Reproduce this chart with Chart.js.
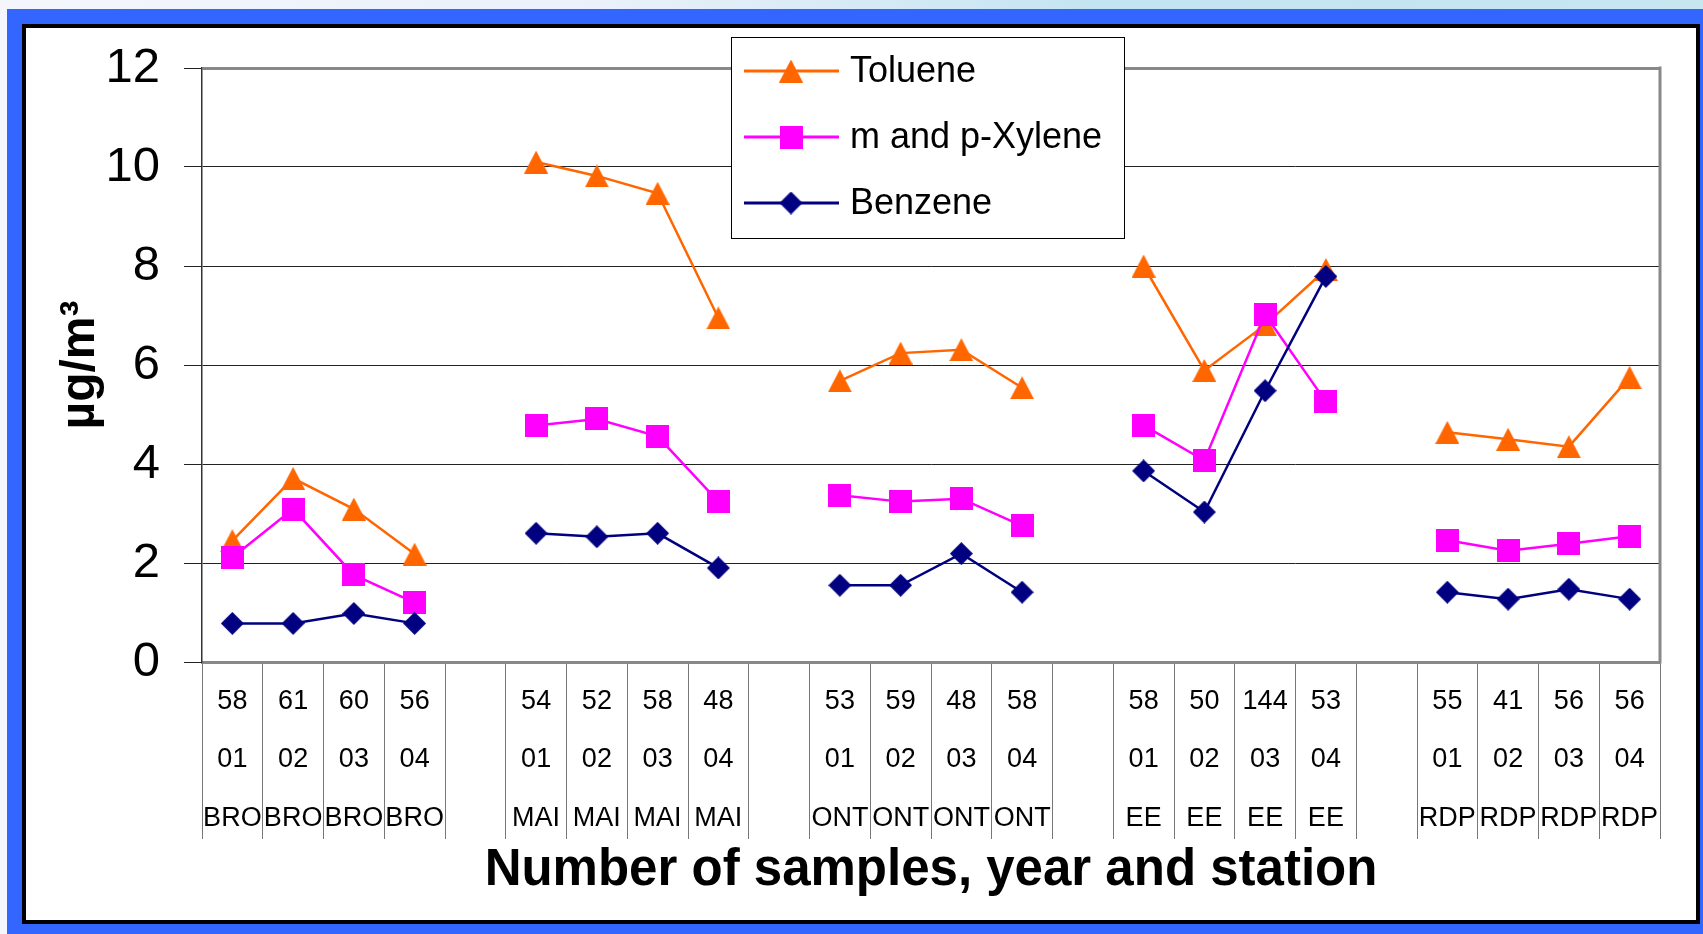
<!DOCTYPE html>
<html>
<head>
<meta charset="utf-8">
<script src="https://cdn.jsdelivr.net/npm/chart.js@4/dist/chart.umd.min.js"></script>
<style>
    html, body {
        margin: 0;
        padding: 0;
        width: 1703px;
        height: 934px;
        overflow: hidden;
        background: linear-gradient(to right, #f4f6fc 0%, #eaf1fa 35%, #c3e4f1 65%, #c6e6f0 100%);
    }
    #blue {
        position: absolute;
        left: 7px;
        top: 9px;
        width: 1696px;
        height: 925px;
        background: #3366ff;
    }
    #paper {
        position: absolute;
        left: 22px;
        top: 24px;
        width: 1670px;
        height: 892px;
        border: 4px solid #000;
        background: #fff;
    }
    #chart {
        position: absolute;
        left: 0;
        top: 0;
    }
</style>
</head>
<body>
<div id="blue"></div>
<div id="paper"></div>
<canvas id="chart" width="1703" height="934"></canvas>
<script>
/*
 * Data (empty strings / nulls are the gaps between stations)
 */

const sampleCounts = [
    "58", "61", "60", "56", "",
    "54", "52", "58", "48", "",
    "53", "59", "48", "58", "",
    "58", "50", "144", "53", "",
    "55", "41", "56", "56"
];

const sampleYears = [
    "01", "02", "03", "04", "",
    "01", "02", "03", "04", "",
    "01", "02", "03", "04", "",
    "01", "02", "03", "04", "",
    "01", "02", "03", "04"
];

const stations = [
    "BRO", "BRO", "BRO", "BRO", "",
    "MAI", "MAI", "MAI", "MAI", "",
    "ONT", "ONT", "ONT", "ONT", "",
    "EE", "EE", "EE", "EE", "",
    "RDP", "RDP", "RDP", "RDP"
];

const toluene = [
    2.45, 3.71, 3.09, 2.18, null,
    10.10, 9.82, 9.47, 6.95, null,
    5.68, 6.24, 6.31, 5.54, null,
    8.00, 5.89, 6.81, 7.93, null,
    4.64, 4.50, 4.35, 5.75
];

const xylene = [
    2.11, 3.09, 1.76, 1.20, null,
    4.78, 4.91, 4.56, 3.24, null,
    3.37, 3.24, 3.30, 2.75, null,
    4.78, 4.07, 7.02, 5.26, null,
    2.46, 2.25, 2.39, 2.54
];

const benzene = [
    0.78, 0.78, 0.98, 0.78, null,
    2.60, 2.53, 2.60, 1.90, null,
    1.55, 1.55, 2.19, 1.41, null,
    3.86, 3.03, 5.48, 7.79, null,
    1.41, 1.27, 1.47, 1.27
];

const seriesNames = [
    "Toluene",
    "m and p-Xylene",
    "Benzene"
];

const yTicks = [0, 2, 4, 6, 8, 10, 12];


document.addEventListener(

    "DOMContentLoaded",

    () => {

        const FONT = "'Liberation Sans', Arial, sans-serif";

        /*
         * Markers, drawn once on small canvases
         */

        function makeMarker(shape, color, w, h) {

            const c = document.createElement("canvas");
            c.width = w;
            c.height = h;
            const g = c.getContext("2d");
            g.fillStyle = color;
            g.beginPath();

            if (shape === "triangle") {
                g.moveTo(w / 2, 0);
                g.lineTo(w, h);
                g.lineTo(0, h);
            } else if (shape === "diamond") {
                g.moveTo(w / 2, 0);
                g.lineTo(w, h / 2);
                g.lineTo(w / 2, h);
                g.lineTo(0, h / 2);
            } else {
                g.rect(0, 0, w, h);
            }

            g.closePath();
            g.fill();
            return c;
        }

        const colors = ["#ff6600", "#ff00ff", "#000080"];

        const markers = [
            makeMarker("triangle", colors[0], 24, 23),
            makeMarker("square", colors[1], 23, 23),
            makeMarker("diamond", colors[2], 23, 23)
        ];

        const labels =
            sampleCounts.map(
                (c, i) => [c, sampleYears[i], stations[i]]
            );


        /*
         * Right border of the plot area
         */

        const plotFrame = {

            id: "plotFrame",

            beforeDatasetsDraw(chart) {

                const { ctx, chartArea } = chart;

                ctx.save();
                ctx.strokeStyle = "#888";
                ctx.lineWidth = 3;
                ctx.beginPath();
                ctx.moveTo(chartArea.right, chartArea.top - 1.5);
                ctx.lineTo(chartArea.right, chartArea.bottom + 1.5);
                ctx.stroke();
                ctx.restore();
            }
        };


        /*
         * Boxed legend inside the plot
         */

        const boxLegend = {

            id: "boxLegend",

            afterDraw(chart) {

                const ctx = chart.ctx;
                const box = { x: 731, y: 37, w: 393, h: 201 };

                ctx.save();
                ctx.fillStyle = "#fff";
                ctx.fillRect(box.x, box.y, box.w, box.h);
                ctx.strokeStyle = "#000";
                ctx.lineWidth = 1;
                ctx.strokeRect(box.x + 0.5, box.y + 0.5, box.w, box.h);

                chart.data.datasets.forEach(

                    (ds, i) => {

                        const y = 71 + i * 66;

                        ctx.strokeStyle = ds.borderColor;
                        ctx.lineWidth = 3;
                        ctx.beginPath();
                        ctx.moveTo(744, y);
                        ctx.lineTo(839, y);
                        ctx.stroke();

                        const m = ds.pointStyle;
                        ctx.drawImage(m, 791 - m.width / 2, y - m.height / 2);

                        ctx.fillStyle = "#000";
                        ctx.font = "36px " + FONT;
                        ctx.textBaseline = "alphabetic";
                        ctx.textAlign = "left";
                        ctx.fillText(ds.label, 850, y + 11);
                    }
                );

                ctx.restore();
            }
        };


        /*
         * Chart
         */

        const seriesData = [toluene, xylene, benzene];

        new Chart(

            document.getElementById("chart"),

            {

                type: "line",

                data: {

                    labels,

                    datasets: seriesNames.map(

                        (name, i) => ({

                            label: name,
                            data: seriesData[i],
                            borderColor: colors[i],
                            backgroundColor: colors[i],
                            borderWidth: 2.5,
                            pointStyle: markers[i],
                            pointRadius: 12,
                            tension: 0,
                            spanGaps: false,
                            order: 3 - i
                        })
                    )
                },

                options: {

                    responsive: false,
                    animation: false,
                    devicePixelRatio: 1,

                    layout: {
                        padding: { left: 26, top: 68, right: 43, bottom: 14 }
                    },

                    plugins: {
                        legend: { display: false },
                        tooltip: { enabled: false }
                    },

                    scales: {

                        x: {

                            offset: true,

                            grid: {
                                display: true,
                                drawOnChartArea: false,
                                offset: true,
                                drawTicks: true,
                                tickLength: 177,
                                color: "#777",
                                tickColor: "#777",
                                lineWidth: 1
                            },

                            border: { color: "#888", width: 3 },

                            ticks: {
                                autoSkip: false,
                                maxRotation: 0,
                                minRotation: 0,
                                padding: -167,
                                color: "#000",
                                font: { family: FONT, size: 27, lineHeight: 2.17 }
                            },

                            title: {
                                display: true,
                                text: "Number of samples, year and station",
                                color: "#000",
                                font: { family: FONT, size: 51, weight: "bold" },
                                padding: { top: 0, bottom: 18 }
                            },

                            afterFit: s => { s.height = 258; }
                        },

                        y: {

                            min: yTicks[0],
                            max: yTicks[yTicks.length - 1],

                            afterBuildTicks: s => {
                                s.ticks = yTicks.map(v => ({ value: v }));
                            },

                            grid: {
                                color: c => c.tick && c.tick.value === 12 ? "#888" : "#222",
                                lineWidth: c => c.tick && c.tick.value === 12 ? 3 : 1,
                                tickColor: "#222",
                                tickWidth: 1,
                                tickLength: 18
                            },

                            border: { color: "#333", width: 1.5 },

                            ticks: {
                                padding: 24,
                                color: "#000",
                                font: { family: FONT, size: 49 }
                            },

                            title: {
                                display: true,
                                text: "µg/m³",
                                color: "#000",
                                font: { family: FONT, size: 48, weight: "bold" },
                                padding: { top: 26, bottom: 0 }
                            },

                            afterFit: s => { s.width = 176; }
                        }
                    }
                },

                plugins: [plotFrame, boxLegend]
            }
        );
    }
);
</script>
</body>
</html>
